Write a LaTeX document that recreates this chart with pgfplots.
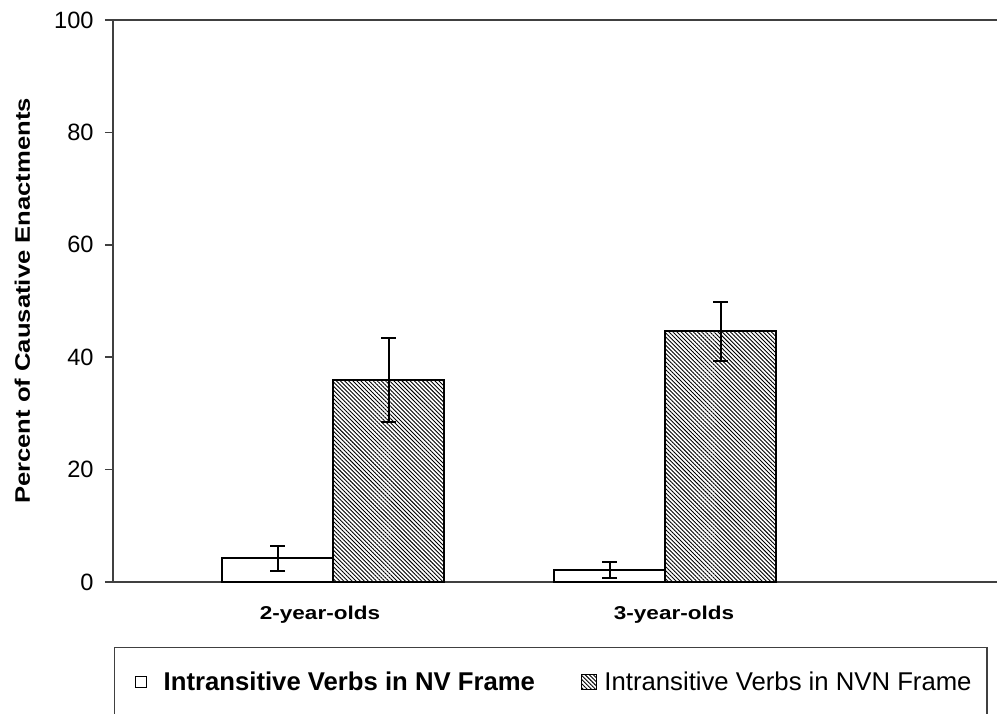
\documentclass[border=0pt]{standalone}
\usepackage{pgfplots}
\pgfplotsset{compat=1.18}
\usepackage{fontspec}
\setmainfont{Liberation Sans}
\usetikzlibrary{patterns.meta}
\begin{document}
\begin{tikzpicture}
\begin{axis}[
  scale only axis, width=446pt, height=281pt,
  xmin=-0.6627, xmax=2.0241, ymin=0, ymax=100,
  enlargelimits=false,
  axis line style={black!75, line width=0.75pt},
  ytick={0,20,...,100},
  xtick={-0.0392,1.0271},
  xticklabels={{\scalebox{1.21}[1]{2-year-olds}},{\scalebox{1.21}[1]{3-year-olds}}},
  ytick pos=left, xtick pos=bottom, tick align=outside,
  major tick length=4pt,
  x tick style={draw=none},
  y tick style={black!75, line width=0.75pt},
  /pgf/number format/assume math mode=true,
  yticklabel style={font=\fontsize{11.8}{14}\selectfont, inner xsep=5.5pt},
  xticklabel style={font=\bfseries\fontsize{9.3}{11}\selectfont, anchor=base, yshift=-14.5pt},
  every axis y label/.style={at={(axis description cs:-0.09305,0.5)}, rotate=90, anchor=base},
  ylabel={\bfseries\fontsize{10.5}{12}\selectfont\scalebox{1.22}[1]{Percent of Causative Enactments}},
  ybar=0pt, bar width=0.3343,
  legend columns=2, legend cell align=left,
  legend style={at={(axis description cs:0.00112,-0.11566)}, anchor=north west,
    draw=black!75, line width=0.7pt, inner xsep=10pt, inner ysep=12.3pt,
    column sep=0pt, nodes={inner sep=0pt, text depth=0pt},
    font=\fontsize{12.85}{15}\selectfont},
]
\addplot[draw=black, line width=1pt, fill=white,
  legend image code/.code={\draw[black, fill=white, line width=0.6pt] (0pt,-2.75pt) rectangle (5.5pt,2.75pt); \path (13.7pt,0pt);},
  error bars/.cd, y dir=both, y explicit,
  error bar style={black, line width=1pt},
  error mark options={rotate=90, black, mark size=3.75pt, line width=1pt}]
  coordinates {(0,4.2) +- (0,2.2) (1,2.1) +- (0,1.4)};
\addplot[draw=black, line width=1pt,
  pattern={Lines[angle=-45, distance=1.45pt, line width=0.45pt]}, pattern color=black,
  legend image code/.code={\draw[black, line width=0.6pt, pattern={Lines[angle=-45, distance=1.45pt, line width=0.45pt]}] (0pt,-3.75pt) rectangle (7.5pt,3.75pt); \path (10.8pt,0pt);},
  error bars/.cd, y dir=both, y explicit,
  error bar style={black, line width=1pt},
  error mark options={rotate=90, black, mark size=3.75pt, line width=1pt}]
  coordinates {(0,35.9) +- (0,7.5) (1,44.6) +- (0,5.2)};
\legend{{\makebox[208.8pt][l]{\bfseries Intransitive Verbs in NV Frame}},{\makebox[181.2pt][l]{Intransitive Verbs in NVN Frame}}}
\end{axis}
\pgfresetboundingbox
\useasboundingbox (-56.5pt,-65.5pt) rectangle (442pt,291pt);
\end{tikzpicture}
\end{document}
